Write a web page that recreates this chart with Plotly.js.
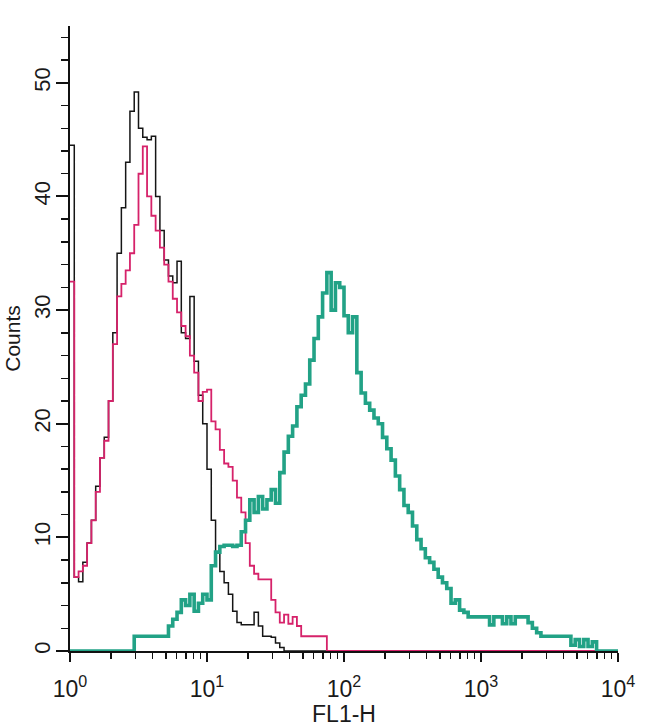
<!DOCTYPE html>
<html>
<head>
<meta charset="utf-8">
<script src="https://cdn.plot.ly/plotly-3.0.1.min.js"></script>
<style>
  html, body { margin: 0; padding: 0; background: #ffffff; }
  #chart { width: 650px; height: 727px; }
</style>
</head>
<body>
<div id="chart"></div>
<script>
// ---- Data (32 channels per decade, FL1-H 10^0..10^4) ----
const channelsPerDecade = 32;
const decades = 4;

const isotypeCounts = [ // black
  44.5, 6.5, 6.1, 7.8, 9.5, 11.5, 14.5, 17, 18.8, 22,
  28, 35, 39, 43, 47.5, 49.2, 46, 45.2, 45, 45.3,
  40, 37, 34.4, 33, 32.4, 34.3, 28, 27.5, 31.2, 25.5,
  22.5, 20, 16, 11.5, 8.7, 7, 6, 5, 3.5, 2.5,
  2.3, 2.3, 2.3, 3.4, 2.2, 1.3, 1.3, 1.2, 0.7, 0.3,
  0, 0, 0, 0, 0, 0, 0, 0, 0, 0,
  0, 0, 0, 0, 0, 0, 0, 0, 0, 0,
  0, 0, 0, 0, 0, 0, 0, 0, 0, 0,
  0, 0, 0, 0, 0, 0, 0, 0, 0, 0,
  0, 0, 0, 0, 0, 0, 0, 0, 0, 0,
  0, 0, 0, 0, 0, 0, 0, 0, 0, 0,
  0, 0, 0, 0, 0, 0, 0, 0, 0, 0,
  0, 0, 0, 0, 0, 0, 0, 0
];

const controlCounts = [ // pink
  32.5, 6.5, 7, 7.5, 9.5, 11.5, 14, 17, 18.5, 22,
  27, 31.2, 32.3, 33.5, 35, 37.5, 42, 44.4, 40, 38.3,
  37, 35.5, 34, 32.5, 31, 29.8, 28.6, 27.7, 26, 24.5,
  22, 22.8, 23, 20.2, 19.5, 17.7, 16.5, 16.2, 15, 13.5,
  12.2, 9.5, 7.5, 6.8, 6.3, 6.3, 6.3, 4.5, 3.4, 2.5,
  3.2, 2.4, 3.0, 2.2, 1.3, 1.3, 1.3, 1.3, 1.3, 1.3,
  0, 0, 0, 0, 0, 0, 0, 0, 0, 0,
  0, 0, 0, 0, 0, 0, 0, 0, 0, 0,
  0, 0, 0, 0, 0, 0, 0, 0, 0, 0,
  0, 0, 0, 0, 0, 0, 0, 0, 0, 0,
  0, 0, 0, 0, 0, 0, 0, 0, 0, 0,
  0, 0, 0, 0, 0, 0, 0, 0, 0, 0,
  0, 0, 0, 0, 0, 0, 0, 0
];

const stainedCounts = [ // green
  0, 0, 0, 0, 0, 0, 0, 0, 0, 0,
  0, 0, 0, 0, 0, 1.3, 1.3, 1.3, 1.3, 1.3,
  1.3, 1.3, 1.3, 2.2, 2.8, 3.4, 4.5, 4.0, 5.0, 3.5,
  4.2, 5.0, 4.5, 7.5, 8.7, 9.2, 9.3, 9.3, 9.2, 9.3,
  10.5, 11.5, 13.3, 12.2, 13.6, 12.5, 13.3, 14.2, 13.0, 15.7,
  17.5, 18.9, 19.8, 21.5, 22.5, 23.5, 25.6, 27.5, 29.4, 31.5,
  33.3, 30, 32.4, 32, 29.5, 28, 29.4, 24.5, 22.7, 21.8,
  21.2, 20.5, 20, 18.8, 17.8, 16.8, 15.4, 14.2, 12.8, 12.2,
  11, 9.8, 9.0, 8.2, 7.8, 7.2, 6.5, 6.0, 5.5, 4.2,
  4.5, 3.6, 3.4, 3.0, 3.0, 3.0, 3.0, 3.0, 2.3, 3.0,
  3.0, 2.4, 3.0, 2.4, 3.0, 3.0, 3.0, 2.5, 2.0, 1.6,
  1.3, 1.3, 1.3, 1.3, 1.3, 1.3, 1.3, 0.5, 1.0, 0.4,
  1.0, 0.4, 0.8, 0, 0, 0, 0, 0
];

const xTickVals = [1, 10, 100, 1000, 10000];
const xTickText = ['10<sup>0</sup>', '10<sup>1</sup>', '10<sup>2</sup>', '10<sup>3</sup>', '10<sup>4</sup>'];
const xMinorDigits = [2, 3, 4, 5, 6, 7, 8, 9];
const xTitle = 'FL1-H';
const yTitle = 'Counts';

// ---- Build channel edges (log amplifier scale) ----
const nCh = channelsPerDecade * decades;
const edges = [];
for (let i = 0; i <= nCh; i++) edges.push(Math.pow(10, i / channelsPerDecade));
function stepY(counts) { return counts.concat([counts[counts.length - 1]]); }

const minorVals = [];
for (let d = 0; d < decades; d++) xMinorDigits.forEach(m => minorVals.push(m * Math.pow(10, d)));

const data = [
  { x: edges, y: stepY(isotypeCounts), type: 'scatter', mode: 'lines',
    line: { shape: 'hv', color: '#151515', width: 1.5 }, hoverinfo: 'skip' },
  { x: edges, y: stepY(controlCounts), type: 'scatter', mode: 'lines',
    line: { shape: 'hv', color: '#d6226a', width: 1.8 }, hoverinfo: 'skip' },
  { x: edges, y: stepY(stainedCounts), type: 'scatter', mode: 'lines',
    line: { shape: 'hv', color: '#22a286', width: 3.6 }, hoverinfo: 'skip' }
];

const axisFont = 'Liberation Sans, Arial, sans-serif';

const layout = {
  width: 650, height: 727,
  margin: { l: 70, r: 32, t: 26, b: 76, pad: 0 },
  paper_bgcolor: '#ffffff', plot_bgcolor: '#ffffff',
  showlegend: false,
  font: { family: axisFont, color: '#1a1a1a' },
  xaxis: {
    type: 'log', range: [0, 4], autorange: false,
    showline: true, linecolor: '#111', linewidth: 2,
    showgrid: false, zeroline: false,
    ticks: 'outside', ticklen: 9, tickwidth: 2, tickcolor: '#111',
    tickmode: 'array', tickvals: xTickVals, ticktext: xTickText,
    tickfont: { family: axisFont, size: 23, color: '#1a1a1a' },
    ticklabelstandoff: 7,
    minor: { ticks: 'outside', ticklen: 6, tickwidth: 1.5, tickcolor: '#111',
             tickmode: 'array', tickvals: minorVals, showgrid: false },
    title: { text: xTitle, font: { family: axisFont, size: 23, color: '#1a1a1a' }, standoff: 0 }
  },
  yaxis: {
    range: [0, 55], autorange: false,
    showline: true, linecolor: '#111', linewidth: 2,
    showgrid: false, zeroline: false,
    ticks: 'outside', ticklen: 12, tickwidth: 2, tickcolor: '#111',
    tick0: 0, dtick: 10,
    tickangle: -90,
    tickfont: { family: axisFont, size: 22, color: '#1a1a1a' },
    ticklabelstandoff: -3,
    minor: { ticks: 'outside', ticklen: 7, tickwidth: 1.5, tickcolor: '#111', dtick: 2, showgrid: false },
    title: { text: yTitle, font: { family: axisFont, size: 21, color: '#1a1a1a' }, standoff: 4 }
  }
};

Plotly.newPlot('chart', data, layout, { staticPlot: true, displayModeBar: false });
</script>
</body>
</html>
